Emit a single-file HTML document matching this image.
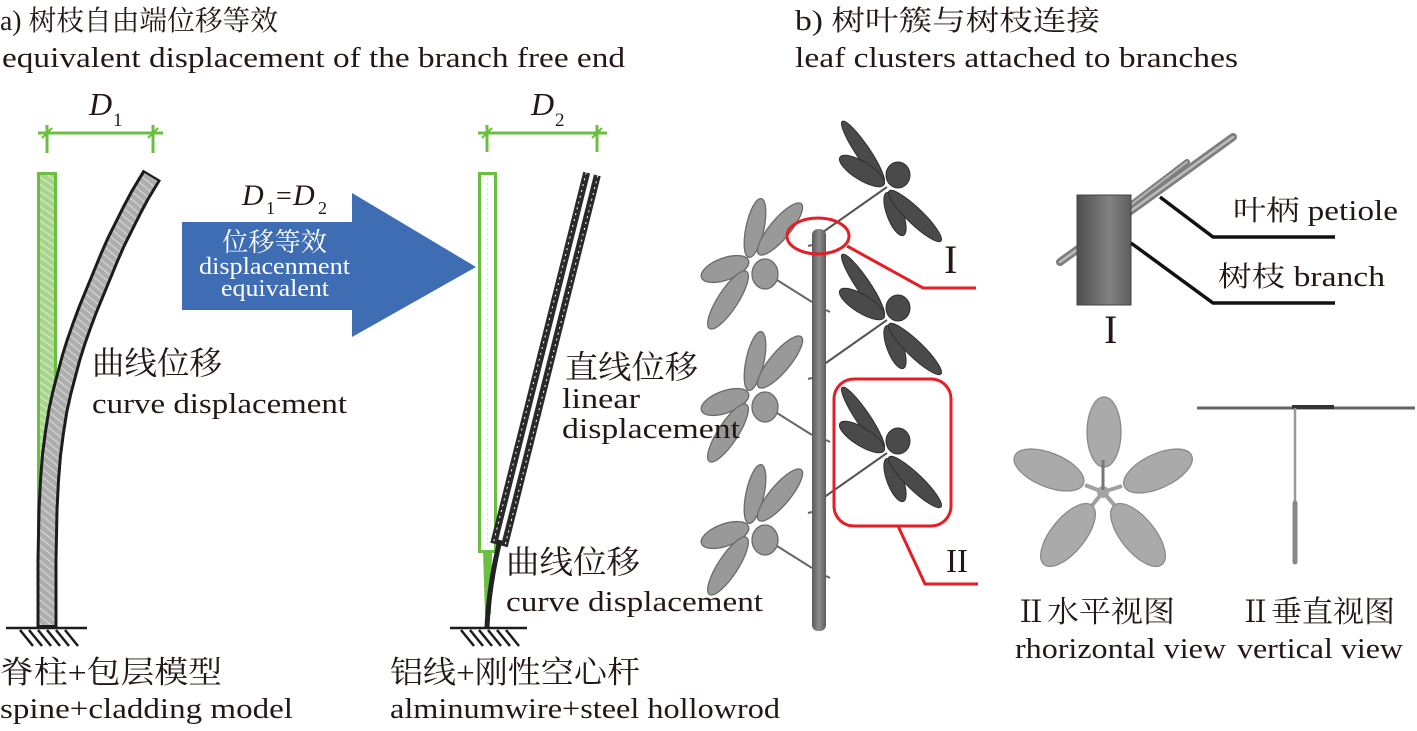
<!DOCTYPE html>
<html><head><meta charset="utf-8"><style>
html,body{margin:0;padding:0;background:#fff;}
svg{display:block;}
.en{font-family:"Liberation Serif",serif;fill:#231815;}
.cj{font-family:"Liberation Serif","Noto Serif CJK SC",serif;fill:#231815;}
</style></head><body>
<svg width="1417" height="731" viewBox="0 0 1417 731" xmlns="http://www.w3.org/2000/svg">
<defs>
<pattern id="gh" width="6" height="6" patternUnits="userSpaceOnUse" patternTransform="rotate(35)">
<rect width="6" height="6" fill="#a9d48e"/><line x1="0" y1="2" x2="6" y2="2" stroke="#d8eccb" stroke-width="1.2"/></pattern>
<pattern id="ch" width="6" height="6" patternUnits="userSpaceOnUse" patternTransform="rotate(40)">
<rect width="6" height="6" fill="#adadad"/><line x1="0" y1="2" x2="6" y2="2" stroke="#d6d6d6" stroke-width="1.2"/></pattern>
<linearGradient id="stem" x1="0" x2="1" y1="0" y2="0"><stop offset="0" stop-color="#5a5a5a"/><stop offset="0.5" stop-color="#8c8c8c"/><stop offset="1" stop-color="#5c5c5c"/></linearGradient>
<linearGradient id="cyl" x1="0" x2="1" y1="0" y2="0"><stop offset="0" stop-color="#4e4e4e"/><stop offset="0.6" stop-color="#828282"/><stop offset="1" stop-color="#5e5e5e"/></linearGradient>
<g id="dk">
<line x1="-64" y1="45" x2="0" y2="0" stroke="#555" stroke-width="2"/>
<g fill="#4a4a4a" stroke="#2e2e2e" stroke-width="1">
<ellipse cx="-24" cy="-35" rx="37" ry="7" transform="rotate(56 -24 -35)"/>
<ellipse cx="-25" cy="-16" rx="26" ry="9" transform="rotate(32 -25 -16)"/>
<ellipse cx="11" cy="-12" rx="12" ry="13"/>
<ellipse cx="8" cy="27" rx="23" ry="8" transform="rotate(69 8 27)"/>
<ellipse cx="28" cy="29" rx="36" ry="8" transform="rotate(44 28 29)"/>
</g></g>
<g id="lt">
<line x1="8" y1="8" x2="62" y2="42" stroke="#666" stroke-width="2"/>
<g fill="#999" stroke="#6a6a6a" stroke-width="1.3">
<ellipse cx="5" cy="-32" rx="30" ry="9" transform="rotate(-78 5 -32)"/>
<ellipse cx="30" cy="-31" rx="33" ry="10" transform="rotate(-50 30 -31)"/>
<ellipse cx="-25" cy="9" rx="25" ry="11" transform="rotate(-20 -25 9)"/>
<ellipse cx="-22" cy="40" rx="34" ry="10" transform="rotate(-57 -22 40)"/>
<ellipse cx="15" cy="14" rx="13" ry="15"/>
</g></g>
</defs>

<!-- titles -->
<text class="cj" x="0" y="30" font-size="28" textLength="278" lengthAdjust="spacingAndGlyphs">a) 树枝自由端位移等效</text>
<text class="en" x="2" y="67" font-size="29" textLength="623" lengthAdjust="spacingAndGlyphs">equivalent displacement of the branch free end</text>
<text class="cj" x="795" y="30" font-size="28" textLength="305" lengthAdjust="spacingAndGlyphs">b) 树叶簇与树枝连接</text>
<text class="en" x="795" y="67" font-size="29" textLength="443" lengthAdjust="spacingAndGlyphs">leaf clusters attached to branches</text>

<!-- LEFT FIGURE -->
<g stroke="#6abf40" stroke-width="3" fill="none">
<line x1="38" y1="133" x2="163" y2="133"/>
<line x1="47" y1="125" x2="47" y2="153"/>
<line x1="153" y1="125" x2="153" y2="153"/>
<line x1="42" y1="138" x2="52" y2="128" stroke-width="2"/>
<line x1="148" y1="138" x2="158" y2="128" stroke-width="2"/>
</g>
<text class="en" x="89" y="115" font-size="32" font-style="italic">D</text>
<text class="en" x="113" y="126" font-size="19">1</text>

<rect x="38.5" y="173.5" width="17" height="452" fill="url(#gh)" stroke="#6abf40" stroke-width="3"/>
<path d="M47 627 L47 560 L48 510 L49.5 480 L51.5 455 L54.5 432 L58 410 L62 392 L66.5 375 L71 358 L76 342 L82 325 L88 309 L95 292 L102 275 L109 258 L116 242 L124 226 L132 210 L140 195 L146 185 L152 175" fill="none" stroke="#1c1c1c" stroke-width="21" stroke-linejoin="round"/>
<path d="M47 625 L47 560 L48 510 L49.5 480 L51.5 455 L54.5 432 L58 410 L62 392 L66.5 375 L71 358 L76 342 L82 325 L88 309 L95 292 L102 275 L109 258 L116 242 L124 226 L132 210 L140 195 L146 185 L151 177" fill="none" stroke="url(#ch)" stroke-width="15" stroke-linejoin="round"/>

<g stroke="#1c1c1c" stroke-width="2.5">
<line x1="6" y1="628" x2="87" y2="628"/>
<line x1="20" y1="630" x2="33" y2="646"/>
<line x1="29" y1="630" x2="42" y2="646"/>
<line x1="38" y1="630" x2="51" y2="646"/>
<line x1="47" y1="630" x2="60" y2="646"/>
<line x1="56" y1="630" x2="69" y2="646"/>
<line x1="65" y1="630" x2="78" y2="646"/>
</g>

<!-- ARROW -->
<polygon points="182,222 352,222 352,193 476,267 352,337 352,310 182,310" fill="#3e6db4"/>
<text class="en" x="242" y="205" font-size="30" font-style="italic">D</text>
<text class="en" x="266" y="214" font-size="18">1</text>
<text class="en" x="276" y="205" font-size="28">=</text>
<text class="en" x="293" y="205" font-size="30" font-style="italic">D</text>
<text class="en" x="318" y="214" font-size="18">2</text>
<text x="222" y="251" font-size="26" textLength="105" lengthAdjust="spacingAndGlyphs" style="font-family:'Liberation Serif','Noto Serif CJK SC',serif;fill:#fff">位移等效</text>
<text x="199" y="274" font-size="24" textLength="151" lengthAdjust="spacingAndGlyphs" style="font-family:'Liberation Serif',serif;fill:#fff">displacenment</text>
<text x="221" y="296" font-size="24" textLength="108" lengthAdjust="spacingAndGlyphs" style="font-family:'Liberation Serif',serif;fill:#fff">equivalent</text>

<!-- MIDDLE FIGURE -->
<g stroke="#6abf40" stroke-width="3" fill="none">
<line x1="478" y1="133" x2="607" y2="133"/>
<line x1="487" y1="125" x2="487" y2="152"/>
<line x1="597" y1="125" x2="597" y2="152"/>
<line x1="482" y1="138" x2="492" y2="128" stroke-width="2"/>
<line x1="592" y1="138" x2="602" y2="128" stroke-width="2"/>
</g>
<text class="en" x="531" y="115" font-size="32" font-style="italic">D</text>
<text class="en" x="555" y="126" font-size="19">2</text>

<rect x="479.5" y="173.5" width="16" height="378" fill="#fff" stroke="#6abf40" stroke-width="3"/>
<line x1="487.5" y1="178" x2="487.5" y2="548" stroke="#cfe8c0" stroke-width="1" stroke-dasharray="2 3"/>
<path d="M483 551 L492 551 L491 614 L485 614 Z" fill="#6abf40"/>
<line x1="592" y1="174" x2="499" y2="545" stroke="#2a2a2a" stroke-width="18"/>
<line x1="592" y1="174" x2="499" y2="545" stroke="#fff" stroke-width="4"/>
<line x1="597.8" y1="175.5" x2="504.8" y2="546.5" stroke="#fff" stroke-width="1" stroke-dasharray="2 4"/>
<line x1="586.2" y1="172.5" x2="493.2" y2="543.5" stroke="#fff" stroke-width="1" stroke-dasharray="2 4"/>
<path d="M500 540 Q489 585 487 627" fill="none" stroke="#222" stroke-width="5"/>

<g stroke="#1c1c1c" stroke-width="2.5">
<line x1="450" y1="628" x2="527" y2="628"/>
<line x1="461" y1="630" x2="474" y2="646"/>
<line x1="470" y1="630" x2="483" y2="646"/>
<line x1="479" y1="630" x2="492" y2="646"/>
<line x1="488" y1="630" x2="501" y2="646"/>
<line x1="497" y1="630" x2="510" y2="646"/>
<line x1="506" y1="630" x2="519" y2="646"/>
</g>

<!-- RIGHT TREE -->
<use href="#lt" x="750" y="260"/>
<use href="#lt" x="750" y="393"/>
<use href="#lt" x="750" y="526"/>
<use href="#dk" x="887" y="187"/>
<use href="#dk" x="887" y="320"/>
<use href="#dk" x="887" y="453"/>
<rect x="812" y="229" width="14" height="402" rx="6" fill="url(#stem)"/>
<g stroke="#666" stroke-width="2">
<line x1="812" y1="245" x2="808" y2="246"/>
<line x1="826" y1="310" x2="830" y2="312"/>
<line x1="812" y1="378" x2="808" y2="379"/>
<line x1="826" y1="440" x2="830" y2="442"/>
<line x1="812" y1="512" x2="808" y2="513"/>
<line x1="826" y1="576" x2="830" y2="578"/>
</g>

<g stroke="#e41e26" stroke-width="3" fill="none">
<ellipse cx="818" cy="236" rx="31" ry="18"/>
<polyline points="847,246 923,288 976,288"/>
<rect x="834" y="379" width="117" height="147" rx="20"/>
<polyline points="898,526 925,584 978,584"/>
</g>
<text class="en" x="944" y="273" font-size="40">I</text>
<text class="en" x="946" y="572" font-size="34" textLength="22" lengthAdjust="spacingAndGlyphs">II</text>

<!-- DETAIL I -->
<line x1="1060" y1="262" x2="1233" y2="137" stroke="#7e7e7e" stroke-width="8" stroke-linecap="round"/>
<line x1="1060" y1="262" x2="1233" y2="137" stroke="#bdbdbd" stroke-width="2.5" stroke-linecap="round"/>
<line x1="1124" y1="210" x2="1187" y2="162" stroke="#7e7e7e" stroke-width="6" stroke-linecap="round"/>
<line x1="1124" y1="210" x2="1187" y2="162" stroke="#b5b5b5" stroke-width="2" stroke-linecap="round"/>
<rect x="1077" y="195" width="54" height="110" fill="url(#cyl)" stroke="#444" stroke-width="1"/>
<g stroke="#111" stroke-width="3.5" fill="none">
<polyline points="1160,197 1213,237 1335,237"/>
<polyline points="1131,243 1213,303 1335,303"/>
</g>
<text class="cj" x="1233" y="220" font-size="28" textLength="165" lengthAdjust="spacingAndGlyphs">叶柄 petiole</text>
<text class="cj" x="1218" y="286" font-size="28" textLength="167" lengthAdjust="spacingAndGlyphs">树枝 branch</text>
<text class="en" x="1104" y="343" font-size="40">I</text>

<!-- horizontal view -->
<g stroke="#a0a0a0" stroke-width="4">
<line x1="1103" y1="492" x2="1085" y2="485"/>
<line x1="1103" y1="492" x2="1122" y2="486"/>
<line x1="1103" y1="492" x2="1090" y2="508"/>
<line x1="1103" y1="492" x2="1117" y2="508"/>
</g>
<g fill="#aaaaaa" stroke="#8a8a8a" stroke-width="1.3">
<ellipse cx="1104" cy="432" rx="17" ry="35"/>
<ellipse cx="1049" cy="470" rx="37" ry="17" transform="rotate(22 1049 470)"/>
<ellipse cx="1158" cy="471" rx="37" ry="17" transform="rotate(-25 1158 471)"/>
<ellipse cx="1068" cy="535" rx="38" ry="17" transform="rotate(-51 1068 535)"/>
<ellipse cx="1138" cy="535" rx="38" ry="17" transform="rotate(51 1138 535)"/>
</g>
<circle cx="1103" cy="492" r="6" fill="#a4a4a4"/>
<line x1="1103" y1="460" x2="1103" y2="490" stroke="#777" stroke-width="3"/>

<!-- vertical view -->
<line x1="1197" y1="408" x2="1415" y2="408" stroke="#666" stroke-width="3"/>
<line x1="1292" y1="407" x2="1334" y2="407" stroke="#333" stroke-width="4"/>
<line x1="1295" y1="408" x2="1295" y2="562" stroke="#999" stroke-width="2.5"/>
<line x1="1295" y1="503" x2="1295" y2="562" stroke="#888" stroke-width="5" stroke-linecap="round"/>

<!-- labels (drawn on top) -->
<text class="cj" x="92" y="374" font-size="32" textLength="130" lengthAdjust="spacingAndGlyphs">曲线位移</text>
<text class="en" x="92" y="413" font-size="28" textLength="255" lengthAdjust="spacingAndGlyphs">curve displacement</text>
<text class="cj" x="0" y="683" font-size="31" textLength="222" lengthAdjust="spacingAndGlyphs">脊柱+包层模型</text>
<text class="en" x="0" y="718" font-size="29" textLength="293" lengthAdjust="spacingAndGlyphs">spine+cladding model</text>

<text class="cj" x="565" y="378" font-size="32" textLength="133" lengthAdjust="spacingAndGlyphs">直线位移</text>
<text class="en" x="562" y="408" font-size="28" textLength="78" lengthAdjust="spacingAndGlyphs">linear</text>
<text class="en" x="562" y="438" font-size="28" textLength="178" lengthAdjust="spacingAndGlyphs">displacement</text>
<text class="cj" x="506" y="573" font-size="32" textLength="134" lengthAdjust="spacingAndGlyphs">曲线位移</text>
<text class="en" x="506" y="611" font-size="28" textLength="257" lengthAdjust="spacingAndGlyphs">curve displacement</text>
<text class="cj" x="390" y="683" font-size="31" textLength="250" lengthAdjust="spacingAndGlyphs">铝线+刚性空心杆</text>
<text class="en" x="390" y="718" font-size="29" textLength="390" lengthAdjust="spacingAndGlyphs">alminumwire+steel hollowrod</text>

<text class="cj" x="1015" y="622" font-size="30" textLength="160" lengthAdjust="spacingAndGlyphs">Ⅱ水平视图</text>
<text class="en" x="1015" y="658" font-size="28" textLength="211" lengthAdjust="spacingAndGlyphs">rhorizontal view</text>
<text class="cj" x="1240" y="622" font-size="30" textLength="155" lengthAdjust="spacingAndGlyphs">Ⅱ垂直视图</text>
<text class="en" x="1237" y="658" font-size="28" textLength="166" lengthAdjust="spacingAndGlyphs">vertical view</text>
</svg>
</body></html>
